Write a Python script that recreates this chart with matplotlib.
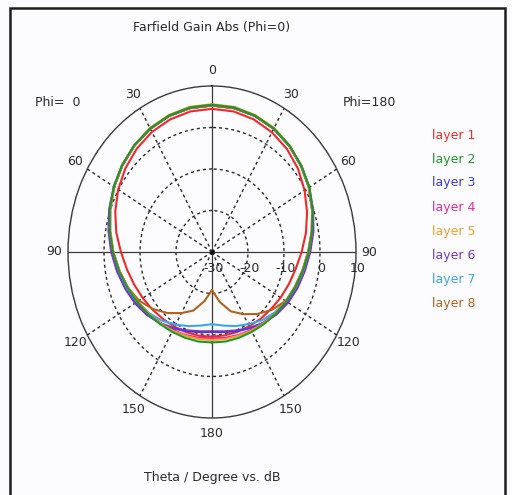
import numpy as np
import matplotlib.pyplot as plt
from matplotlib.patches import Rectangle

plt.rcParams['font.family'] = ['DejaVu Sans']

W, H = 512, 495

# theta steps (deg) for both cuts; phi=0 is drawn on the left, phi=180 on the right
theta = [0, 10, 20, 30, 40, 50, 60, 70, 80, 90, 100, 110, 120, 130, 140, 150, 160, 170, 180]

layer_names = ['layer 1', 'layer 2', 'layer 3', 'layer 4', 'layer 5', 'layer 6', 'layer 7', 'layer 8']
layer_colors = ['#f02828', '#23962a', '#3a3ae0', '#e02aa0', '#f4a028', '#7436c4', '#3aa6ee', '#b2621c']

# gain in dB, phi = 0 cut
gain_phi0 = [
    [4.5, 4.4, 4.0, 3.4, 2.5, 1.4, 0.1, -1.4, -3.0, -4.7, -6.0, -7.0, -7.8, -8.4, -8.9, -9.2, -9.4, -9.5, -9.6],
    [5.5, 5.4, 5.0, 4.4, 3.6, 2.6, 1.5, 0.2, -1.2, -2.5, -3.8, -5.0, -6.0, -6.8, -7.4, -7.8, -8.0, -8.1, -8.2],
    [5.3, 5.2, 4.9, 4.3, 3.5, 2.5, 1.4, 0.2, -1.0, -2.2, -3.4, -4.5, -5.5, -6.5, -7.6, -8.7, -9.7, -10.4, -10.7],
    [5.4, 5.3, 4.9, 4.3, 3.5, 2.5, 1.4, 0.1, -1.3, -2.6, -3.9, -5.1, -6.1, -7.0, -7.7, -8.3, -8.7, -9.0, -9.2],
    [5.6, 5.5, 5.1, 4.5, 3.6, 2.6, 1.4, 0.1, -1.3, -2.6, -3.9, -5.1, -6.1, -6.9, -7.6, -8.1, -8.5, -8.7, -8.8],
    [5.3, 5.2, 4.9, 4.3, 3.5, 2.6, 1.5, 0.4, -0.8, -2.0, -3.2, -4.3, -5.3, -6.4, -7.6, -8.8, -9.9, -10.6, -10.9],
    [5.3, 5.2, 4.9, 4.3, 3.5, 2.5, 1.4, 0.1, -1.2, -2.5, -3.7, -4.8, -5.9, -7.1, -8.4, -9.8, -11.0, -12.0, -12.6],
    [5.3, 5.2, 4.9, 4.3, 3.5, 2.5, 1.4, 0.1, -1.2, -2.5, -3.8, -5.1, -6.6, -8.6, -10.8, -13.0, -15.0, -18.0, -20.8],
]

# gain in dB, phi = 180 cut
gain_phi180 = [
    [4.5, 4.4, 4.0, 3.3, 2.4, 1.2, -0.3, -1.9, -3.5, -5.1, -6.4, -7.3, -8.0, -8.6, -9.0, -9.3, -9.5, -9.6, -9.6],
    [5.5, 5.4, 5.0, 4.4, 3.5, 2.4, 1.2, -0.3, -1.8, -3.2, -4.4, -5.4, -6.2, -6.9, -7.4, -7.8, -8.0, -8.1, -8.2],
    [5.3, 5.2, 4.9, 4.3, 3.4, 2.3, 1.1, -0.3, -1.6, -2.9, -4.0, -4.9, -5.8, -6.7, -7.7, -8.8, -9.7, -10.4, -10.7],
    [5.4, 5.3, 4.9, 4.3, 3.4, 2.3, 1.1, -0.4, -1.9, -3.3, -4.5, -5.5, -6.3, -7.1, -7.8, -8.3, -8.7, -9.0, -9.2],
    [5.6, 5.5, 5.1, 4.5, 3.5, 2.4, 1.1, -0.4, -1.9, -3.3, -4.5, -5.5, -6.3, -7.0, -7.6, -8.1, -8.5, -8.7, -8.8],
    [5.3, 5.2, 4.9, 4.3, 3.4, 2.4, 1.2, -0.1, -1.4, -2.7, -3.8, -4.7, -5.6, -6.6, -7.7, -8.9, -9.9, -10.6, -10.9],
    [5.3, 5.2, 4.9, 4.3, 3.4, 2.3, 1.1, -0.4, -1.8, -3.1, -4.2, -5.2, -6.2, -7.3, -8.5, -9.9, -11.0, -12.0, -12.6],
    [5.3, 5.2, 4.9, 4.3, 3.4, 2.3, 1.1, -0.4, -1.8, -3.1, -4.3, -5.3, -6.4, -8.3, -10.5, -12.7, -14.8, -17.8, -20.8],
]

r_min, r_max = -30, 10
r_rings = [-20, -10, 0]
r_labels = ['-30', '-20', '-10', '0', '10']
angle_labels = [0, 30, 60, 90, 120, 150, 180]

ink = '#2a2a2a'
bg = '#fcfbfd'

fig = plt.figure(figsize=(W / 100, H / 100), dpi=100, facecolor=bg)

# polar plot stretched to an ellipse: centre (212, 252), radii 144 x 166 px
cx, cy, rx, ry = 212, 252, 144, 166
ax = fig.add_axes([(cx - rx) / W, (H - cy - ry) / H, 2 * rx / W, 2 * ry / H],
                  projection='polar', facecolor='none')
ax.set_aspect('auto')
ax.set_theta_zero_location('N')
ax.set_theta_direction(1)
ax.set_rlim(r_min, r_max)
ax.set_xticks([])
ax.set_yticks([])
ax.grid(False)
ax.spines['polar'].set_color('#3a3a3a')
ax.spines['polar'].set_linewidth(1.0)

dash = (0, (2.2, 2.2))
full = np.linspace(0, 2 * np.pi, 361)
for r in r_rings:
    ax.plot(full, np.full_like(full, r), color=ink, lw=1.0, ls=dash, zorder=1)

for a in [30, 60, 120, 150, -30, -60, -120, -150]:
    ax.plot([np.deg2rad(a)] * 2, [r_min, r_max], color=ink, lw=1.0, ls=dash, zorder=1)
for a in [0, 90, 180, -90]:
    ax.plot([np.deg2rad(a)] * 2, [r_min, r_max], color='#3a3a3a', lw=0.9, zorder=1)
ax.plot([0], [r_min], 'o', color='#111111', ms=2.5, zorder=2)

# pattern curves: phi=180 side (clockwise) joined to phi=0 side
th = np.array(theta, dtype=float)
draw_order = [0, 2, 3, 5, 6, 7, 4, 1]
for z, i in enumerate(draw_order):
    ang = np.concatenate([-th[::-1], th[1:]])
    val = np.concatenate([np.array(gain_phi180[i])[::-1], np.array(gain_phi0[i])[1:]])
    ax.plot(np.deg2rad(ang), val, color=layer_colors[i], lw=1.5, zorder=3 + z,
            solid_joinstyle='round')

# angle labels on both halves
for a in angle_labels:
    sides = [a] if a in (0, 180) else [a, -a]
    for s in sides:
        ax.text(np.deg2rad(s), 13.8, str(a), ha='center', va='center',
                fontsize=9, color=ink, clip_on=False)

# dB labels along the right horizontal axis
for r, lab in zip(range(r_min, r_max + 1, 10), r_labels):
    ax.annotate(lab, (np.deg2rad(-90), r), xytext=(1, -12), textcoords='offset points',
                ha='center', va='center', fontsize=9, color=ink, annotation_clip=False)

fig.text(cx / W, 1 - 28 / H, 'Farfield Gain Abs (Phi=0)', ha='center', va='center',
         fontsize=9, color=ink)
fig.text(cx / W, 1 - 477 / H, 'Theta / Degree vs. dB', ha='center', va='center',
         fontsize=9, color=ink)
fig.text(58 / W, 1 - 102 / H, 'Phi=  0', ha='center', va='center', fontsize=9, color=ink)
fig.text(369 / W, 1 - 102 / H, 'Phi=180', ha='center', va='center', fontsize=9, color=ink)

for k, (name, col) in enumerate(zip(layer_names, layer_colors)):
    fig.text(432 / W, 1 - (135 + 24 * k) / H, name, ha='left', va='center',
             fontsize=9, color=col)

fig.patches.append(Rectangle((10 / W, -0.02), (505 - 10) / W, (H - 8) / H + 0.02,
                             transform=fig.transFigure, fill=False, lw=1.8,
                             edgecolor='#1e1e1e'))

fig.savefig('out.png', dpi=100, facecolor=bg)
